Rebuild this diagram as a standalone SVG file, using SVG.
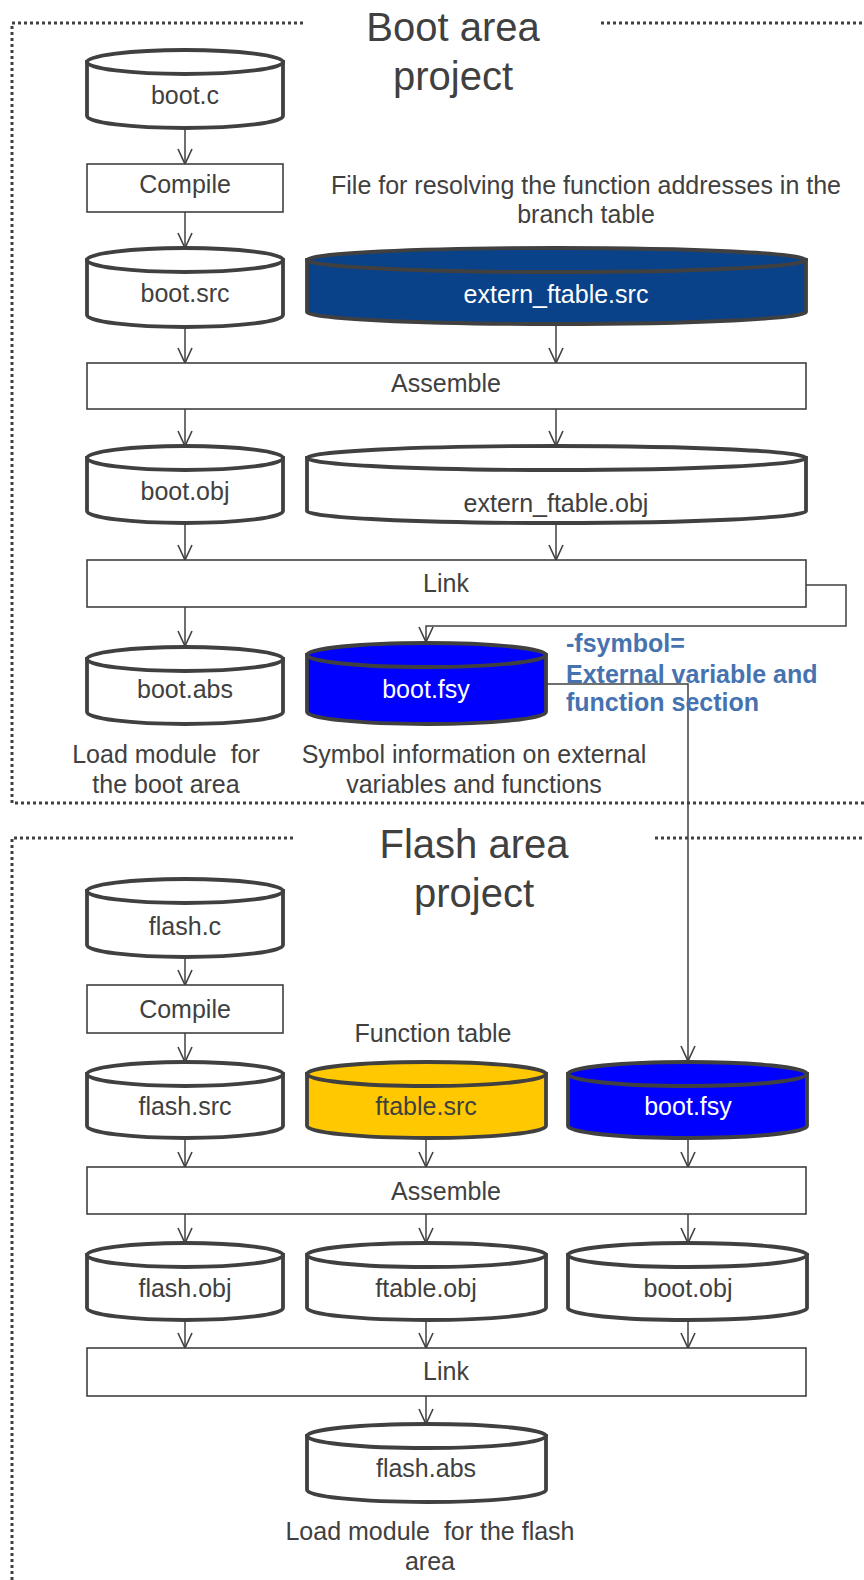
<svg xmlns="http://www.w3.org/2000/svg" width="864" height="1580" viewBox="0 0 864 1580">
<defs>
<style>
.bg{fill:#ffffff}
.dot{fill:none;stroke:#404040;stroke-width:3;stroke-dasharray:3 3}
.cyl{stroke:#404040;stroke-width:3.8}
.w{fill:#ffffff}
.box{fill:#ffffff;stroke:#404040;stroke-width:1.6}
.t{font-family:"Liberation Sans",Arial,sans-serif;font-size:25px;fill:#404040;text-anchor:middle}
.tw{fill:#ffffff}
.title{font-family:"Liberation Sans",Arial,sans-serif;font-size:40px;fill:#404040;text-anchor:middle}
.note{font-family:"Liberation Sans",Arial,sans-serif;font-size:25px;font-weight:bold;fill:#4673b0}
.c{fill:none;stroke:#404040;stroke-width:1.5}
.pre{white-space:pre}
</style>
<marker id="ah" viewBox="-16 -9 18 18" refX="0" refY="0" markerWidth="18" markerHeight="18" markerUnits="userSpaceOnUse" orient="auto">
<path d="M-15,-7 L0,0 L-15,7" fill="none" stroke="#404040" stroke-width="1.6"/>
</marker>
</defs>
<rect class="bg" x="0" y="0" width="864" height="1580"/>

<g id="frames">
<path class="dot" d="M303,23 H12 V803 H864"/>
<path class="dot" d="M601,23 H864"/>
<path class="dot" d="M293,838 H12 V1580"/>
<path class="dot" d="M655,838 H864"/>
</g>

<g id="titles">
<text class="title" x="453" y="41">Boot area</text>
<text class="title" x="453" y="90">project</text>
<text class="title" x="474" y="858">Flash area</text>
<text class="title" x="474" y="907">project</text>
</g>

<g id="connectors">
<line class="c" x1="185" y1="128" x2="185" y2="164" marker-end="url(#ah)"/>
<line class="c" x1="185" y1="212" x2="185" y2="248" marker-end="url(#ah)"/>
<line class="c" x1="185" y1="327" x2="185" y2="363" marker-end="url(#ah)"/>
<line class="c" x1="556" y1="324" x2="556" y2="363" marker-end="url(#ah)"/>
<line class="c" x1="185" y1="409" x2="185" y2="446" marker-end="url(#ah)"/>
<line class="c" x1="556" y1="409" x2="556" y2="446" marker-end="url(#ah)"/>
<line class="c" x1="185" y1="523" x2="185" y2="560" marker-end="url(#ah)"/>
<line class="c" x1="556" y1="523" x2="556" y2="560" marker-end="url(#ah)"/>
<line class="c" x1="185" y1="607" x2="185" y2="646" marker-end="url(#ah)"/>
<path class="c" d="M806,585 H846 V626 H426 V642" marker-end="url(#ah)"/>
<path class="c" d="M546,684 H688 V1061" marker-end="url(#ah)"/>
<line class="c" x1="185" y1="957" x2="185" y2="985" marker-end="url(#ah)"/>
<line class="c" x1="185" y1="1033" x2="185" y2="1062" marker-end="url(#ah)"/>
<line class="c" x1="185" y1="1138" x2="185" y2="1167" marker-end="url(#ah)"/>
<line class="c" x1="426" y1="1138" x2="426" y2="1167" marker-end="url(#ah)"/>
<line class="c" x1="688" y1="1138" x2="688" y2="1167" marker-end="url(#ah)"/>
<line class="c" x1="185" y1="1214" x2="185" y2="1243" marker-end="url(#ah)"/>
<line class="c" x1="426" y1="1214" x2="426" y2="1243" marker-end="url(#ah)"/>
<line class="c" x1="688" y1="1214" x2="688" y2="1243" marker-end="url(#ah)"/>
<line class="c" x1="185" y1="1320" x2="185" y2="1348" marker-end="url(#ah)"/>
<line class="c" x1="426" y1="1320" x2="426" y2="1348" marker-end="url(#ah)"/>
<line class="c" x1="688" y1="1320" x2="688" y2="1348" marker-end="url(#ah)"/>
<line class="c" x1="426" y1="1396" x2="426" y2="1424" marker-end="url(#ah)"/>
</g>

<g id="boot_c">
<path class="cyl w" d="M87,62 V116 A98,12 0 0 0 283,116 V62 Z"/>
<ellipse class="cyl w" cx="185" cy="62" rx="98" ry="12"/>
<text class="t" x="185" y="104">boot.c</text>
</g>
<g id="compile_boot">
<rect class="box" x="87" y="164" width="196" height="48"/>
<text class="t" x="185" y="193">Compile</text>
</g>
<g id="note_branch">
<text class="t" x="586" y="194">File for resolving the function addresses in the</text>
<text class="t" x="586" y="223">branch table</text>
</g>
<g id="boot_src">
<path class="cyl w" d="M87,260 V315 A98,12 0 0 0 283,315 V260 Z"/>
<ellipse class="cyl w" cx="185" cy="260" rx="98" ry="12"/>
<text class="t" x="185" y="302">boot.src</text>
</g>
<g id="extern_ftable_src">
<path class="cyl" fill="#0a428a" d="M307,260 V312 A249.5,12 0 0 0 806,312 V260 Z"/>
<ellipse class="cyl" fill="#0a428a" cx="556.5" cy="260" rx="249.5" ry="12"/>
<text class="t tw" x="556" y="303">extern_ftable.src</text>
</g>
<g id="assemble_boot">
<rect class="box" x="87" y="363" width="719" height="46"/>
<text class="t" x="446" y="392">Assemble</text>
</g>
<g id="boot_obj">
<path class="cyl w" d="M87,458 V511 A98,12 0 0 0 283,511 V458 Z"/>
<ellipse class="cyl w" cx="185" cy="458" rx="98" ry="12"/>
<text class="t" x="185" y="500">boot.obj</text>
</g>
<g id="extern_ftable_obj">
<path class="cyl w" d="M307,458 V511 A249.5,12 0 0 0 806,511 V458 Z"/>
<ellipse class="cyl w" cx="556.5" cy="458" rx="249.5" ry="12"/>
<text class="t" x="556" y="512">extern_ftable.obj</text>
</g>
<g id="link_boot">
<rect class="box" x="87" y="560" width="719" height="47"/>
<text class="t" x="446" y="592">Link</text>
</g>
<g id="boot_abs">
<path class="cyl w" d="M87,659 V712 A98,12 0 0 0 283,712 V659 Z"/>
<ellipse class="cyl w" cx="185" cy="659" rx="98" ry="12"/>
<text class="t" x="185" y="698">boot.abs</text>
</g>
<g id="boot_fsy_1">
<path class="cyl" fill="#0000ff" d="M307,655 V712 A119.5,12 0 0 0 546,712 V655 Z"/>
<ellipse class="cyl" fill="#0000ff" cx="426.5" cy="655" rx="119.5" ry="12"/>
<text class="t tw" x="426" y="698">boot.fsy</text>
</g>
<g id="note_fsymbol">
<text class="note" x="566" y="652">-fsymbol=</text>
<text class="note" x="566" y="683">External variable and</text>
<text class="note" x="566" y="711">function section</text>
</g>
<g id="note_boot_abs">
<text class="t pre" x="166" y="763">Load module  for</text>
<text class="t" x="166" y="793">the boot area</text>
</g>
<g id="note_boot_fsy">
<text class="t" x="474" y="763">Symbol information on external</text>
<text class="t" x="474" y="793">variables and functions</text>
</g>

<g id="flash_c">
<path class="cyl w" d="M87,891 V945 A98,12 0 0 0 283,945 V891 Z"/>
<ellipse class="cyl w" cx="185" cy="891" rx="98" ry="12"/>
<text class="t" x="185" y="935">flash.c</text>
</g>
<g id="compile_flash">
<rect class="box" x="87" y="985" width="196" height="48"/>
<text class="t" x="185" y="1018">Compile</text>
</g>
<g id="note_ftable">
<text class="t" x="433" y="1042">Function table</text>
</g>
<g id="flash_src">
<path class="cyl w" d="M87,1074 V1126 A98,12 0 0 0 283,1126 V1074 Z"/>
<ellipse class="cyl w" cx="185" cy="1074" rx="98" ry="12"/>
<text class="t" x="185" y="1115">flash.src</text>
</g>
<g id="ftable_src">
<path class="cyl" fill="#ffc800" d="M307,1074 V1126 A119.5,12 0 0 0 546,1126 V1074 Z"/>
<ellipse class="cyl" fill="#ffc800" cx="426.5" cy="1074" rx="119.5" ry="12"/>
<text class="t" x="426" y="1115">ftable.src</text>
</g>
<g id="boot_fsy_2">
<path class="cyl" fill="#0000ff" d="M568,1074 V1126 A119.5,12 0 0 0 807,1126 V1074 Z"/>
<ellipse class="cyl" fill="#0000ff" cx="687.5" cy="1074" rx="119.5" ry="12"/>
<text class="t tw" x="688" y="1115">boot.fsy</text>
</g>
<g id="assemble_flash">
<rect class="box" x="87" y="1167" width="719" height="47"/>
<text class="t" x="446" y="1200">Assemble</text>
</g>
<g id="flash_obj">
<path class="cyl w" d="M87,1255 V1308 A98,12 0 0 0 283,1308 V1255 Z"/>
<ellipse class="cyl w" cx="185" cy="1255" rx="98" ry="12"/>
<text class="t" x="185" y="1297">flash.obj</text>
</g>
<g id="ftable_obj">
<path class="cyl w" d="M307,1255 V1308 A119.5,12 0 0 0 546,1308 V1255 Z"/>
<ellipse class="cyl w" cx="426.5" cy="1255" rx="119.5" ry="12"/>
<text class="t" x="426" y="1297">ftable.obj</text>
</g>
<g id="boot_obj_2">
<path class="cyl w" d="M568,1255 V1308 A119.5,12 0 0 0 807,1308 V1255 Z"/>
<ellipse class="cyl w" cx="687.5" cy="1255" rx="119.5" ry="12"/>
<text class="t" x="688" y="1297">boot.obj</text>
</g>
<g id="link_flash">
<rect class="box" x="87" y="1348" width="719" height="48"/>
<text class="t" x="446" y="1380">Link</text>
</g>
<g id="flash_abs">
<path class="cyl w" d="M307,1436 V1490 A119.5,12 0 0 0 546,1490 V1436 Z"/>
<ellipse class="cyl w" cx="426.5" cy="1436" rx="119.5" ry="12"/>
<text class="t" x="426" y="1477">flash.abs</text>
</g>
<g id="note_flash_abs">
<text class="t pre" x="430" y="1540">Load module  for the flash</text>
<text class="t" x="430" y="1570">area</text>
</g>
</svg>
